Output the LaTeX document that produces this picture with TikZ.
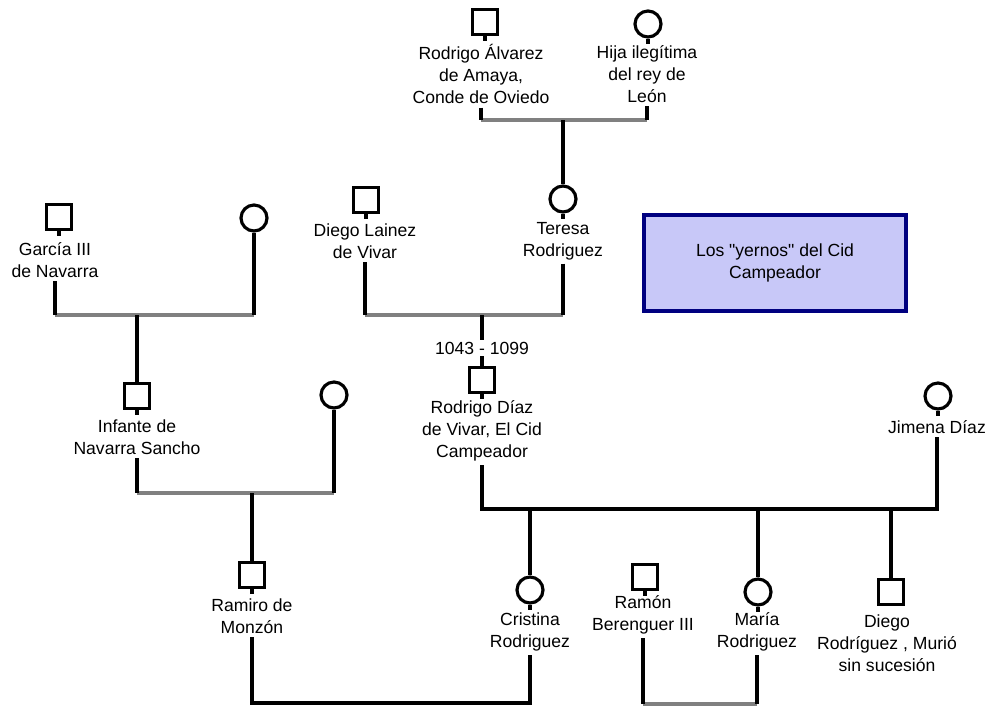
\documentclass[tikz,border=0pt]{standalone}
\usepackage{fontspec}
\setmainfont{Liberation Sans}[Ligatures=TeXOff]
\definecolor{boxfill}{RGB}{200,200,248}
\definecolor{boxline}{RGB}{0,0,128}
\begin{document}
\begin{tikzpicture}[x=0.02cm, y=-0.02cm,
    male/.style={draw, rectangle, line width=1.8pt, minimum size=0.5cm, inner sep=0pt},
    female/.style={draw, circle, line width=1.8pt, minimum size=0.52cm, inner sep=0pt},
    who/.style={align=center, font=\fontsize{10}{12.5}\selectfont, inner sep=2pt},
    kin/.style={line width=1.8pt},
    wed/.style={line width=1.8pt, draw=black!50}]
    \useasboundingbox (0,0) rectangle (991,707);

    % abuelos
    \node[male] (alvarez) at (485,22) {};
    \node[female] (hija) at (648,24) {};
    \node[who] (alvarezN) at (481,74) {Rodrigo Álvarez\\de Amaya,\\Conde de Oviedo};
    \node[who] (hijaN) at (647,74) {Hija ilegítima\\del rey de\\León};

    % padres
    \node[male] (lainez) at (366,200) {};
    \node[female] (teresa) at (563,199) {};
    \node[who] (lainezN) at (365,241) {Diego Lainez\\de Vivar};
    \node[who] (teresaN) at (563,241) {Teresa\\Rodriguez};
    \node[male] (garcia) at (59,217) {};
    \node[female] (garciaW) at (254,218) {};
    \node[who] (garciaN) at (55,260) {García III\\de Navarra};

    % el Cid y Jimena
    \node[who, inner sep=1pt] (years) at (482,348) {1043 - 1099};
    \node[male] (cid) at (482,380) {};
    \node[who] (cidN) at (482,431) {Rodrigo Díaz\\de Vivar, El Cid\\Campeador};
    \node[female] (jimena) at (938,396) {};
    \node[who] (jimenaN) at (937,427) {Jimena Díaz};
    \node[male] (sancho) at (137,396) {};
    \node[who] (sanchoN) at (137,437) {Infante de\\Navarra Sancho};
    \node[female] (sanchoW) at (334,395) {};

    % hijos y yernos
    \node[male] (ramiro) at (252,575) {};
    \node[who] (ramiroN) at (252,616) {Ramiro de\\Monzón};
    \node[female] (cristina) at (530,590) {};
    \node[who] (cristinaN) at (530,632) {Cristina\\Rodriguez};
    \node[male] (ramon) at (645,577) {};
    \node[who] (ramonN) at (643,615) {Ramón\\Berenguer III};
    \node[female] (maria) at (758,592) {};
    \node[who] (mariaN) at (757,632) {María\\Rodriguez};
    \node[male] (diegoR) at (891,592) {};
    \node[who] (diegoRN) at (887,643) {Diego\\Rodríguez , Murió\\sin sucesión};

    \node[draw=boxline, fill=boxfill, line width=1.8pt, minimum width=5.24cm, minimum height=1.92cm,
        align=center, font=\fontsize{10}{12.5}\selectfont] (title) at (775,263)
        {Los "yernos" del Cid\\Campeador};

    % uniones
    \coordinate (w1) at (563,120);
    \coordinate (w2) at (482,315);
    \coordinate (w3) at (137,315);
    \coordinate (w4) at (252,493);
    \coordinate (w5) at (482,509);
    \coordinate (w6) at (391,703);
    \coordinate (w7) at (701,704);

    \draw[wed] (alvarezN.south |- w1) -- (hijaN.south |- w1);
    \draw[kin] (alvarezN.south) -- (alvarezN.south |- w1);
    \draw[kin] (hijaN.south) -- (hijaN.south |- w1);
    \draw[kin] (w1) -- (teresa.north);

    \draw[wed] (lainezN.south |- w2) -- (teresaN.south |- w2);
    \draw[kin] (lainezN.south) -- (lainezN.south |- w2);
    \draw[kin] (teresaN.south) -- (teresaN.south |- w2);
    \draw[kin] (w2) -- (years.north);
    \draw[kin] (years.south) -- (cid.north);

    \draw[wed] (garciaN.south |- w3) -- (garciaW.south |- w3);
    \draw[kin] (garciaN.south) -- (garciaN.south |- w3);
    \draw[kin] (garciaW.south) -- (garciaW.south |- w3);
    \draw[kin] (w3) -- (sancho.north);

    \draw[wed] (sanchoN.south |- w4) -- (sanchoW.south |- w4);
    \draw[kin] (sanchoN.south) -- (sanchoN.south |- w4);
    \draw[kin] (sanchoW.south) -- (sanchoW.south |- w4);
    \draw[kin] (w4) -- (ramiro.north);

    \draw[kin] (cidN.south) -- (w5) -| (jimenaN.south);
    \foreach \c in {cristina, maria, diegoR}
        \draw[kin] (\c.north |- w5) -- (\c.north);

    \draw[kin] (ramiroN.south) |- (w6) -| (cristinaN.south);

    \draw[wed] (ramonN.south |- w7) -- (mariaN.south |- w7);
    \draw[kin] (ramonN.south) -- (ramonN.south |- w7);
    \draw[kin] (mariaN.south) -- (mariaN.south |- w7);

    % trazos cortos bajo los simbolos
    \foreach \p in {alvarez, hija, lainez, teresa, garcia, sancho, cid, jimena, ramiro, cristina, ramon, maria}
        \draw[kin] (\p.south) -- ++(0,5);
\end{tikzpicture}
\end{document}
